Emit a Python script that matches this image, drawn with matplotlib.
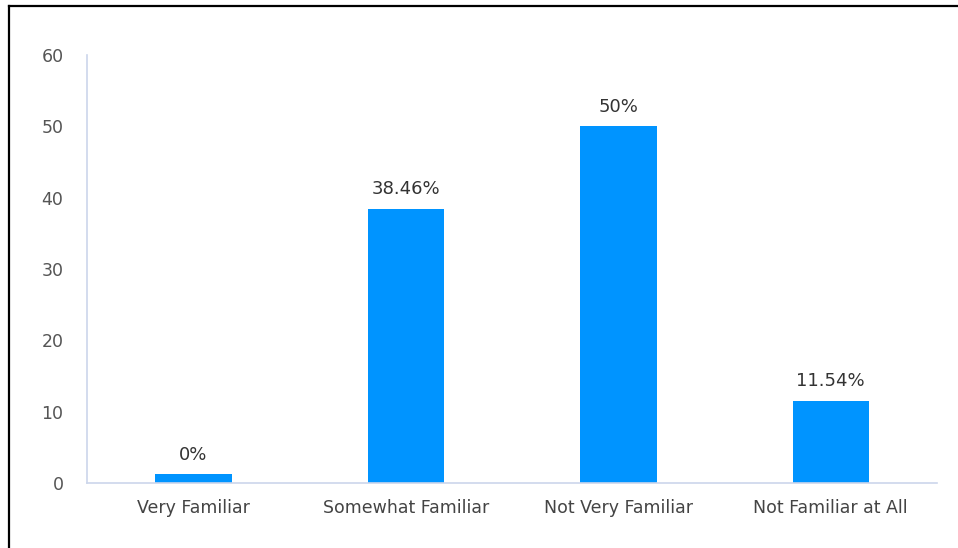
import matplotlib
matplotlib.use("Agg")
import matplotlib.pyplot as plt
from matplotlib.lines import Line2D

# survey answers, percent of respondents
categories = ["Very Familiar", "Somewhat Familiar", "Not Very Familiar", "Not Familiar at All"]
values = [0, 38.46, 50, 11.54]
labels = ["0%", "38.46%", "50%", "11.54%"]
yticks = [0, 10, 20, 30, 40, 50, 60]

bar_color = "#0094FF"
axis_color = "#CCD6EB"
min_bar = 1.25  # keep zero bars visible as a thin stub

fig = plt.figure(figsize=(9.58, 5.48), dpi=100)
ax = fig.add_axes([87 / 958, 65 / 548, 850 / 958, 428 / 548])

x = range(len(categories))
shown = [max(v, min_bar) for v in values]
ax.bar(x, shown, width=0.36, color=bar_color)

for xi, h, lab in zip(x, shown, labels):
    ax.annotate(lab, (xi, h), xytext=(0, 7.5), textcoords="offset points",
                ha="center", va="bottom", fontsize=13, color="#333333")

ax.set_xlim(-0.5, len(categories) - 0.5)
ax.set_ylim(0, 60)
ax.set_yticks(yticks)
ax.set_xticks(list(x))
ax.set_xticklabels(categories)

ax.tick_params(axis="y", length=0, pad=17, labelsize=12.5, labelcolor="#555555")
ax.tick_params(axis="x", length=0, pad=11.5, labelsize=12.5, labelcolor="#444444")

for s in ["top", "right"]:
    ax.spines[s].set_visible(False)
for s in ["left", "bottom"]:
    ax.spines[s].set_color(axis_color)
    ax.spines[s].set_linewidth(1.2)

# frame edges along the top and left
fig.add_artist(Line2D([8.5 / 958, 1], [1 - 5.5 / 548, 1 - 5.5 / 548],
                      transform=fig.transFigure, color="black", lw=1.6))
fig.add_artist(Line2D([8.5 / 958, 8.5 / 958], [0, 1 - 5.5 / 548],
                      transform=fig.transFigure, color="black", lw=1.6))

fig.savefig("out.png", dpi=100)
